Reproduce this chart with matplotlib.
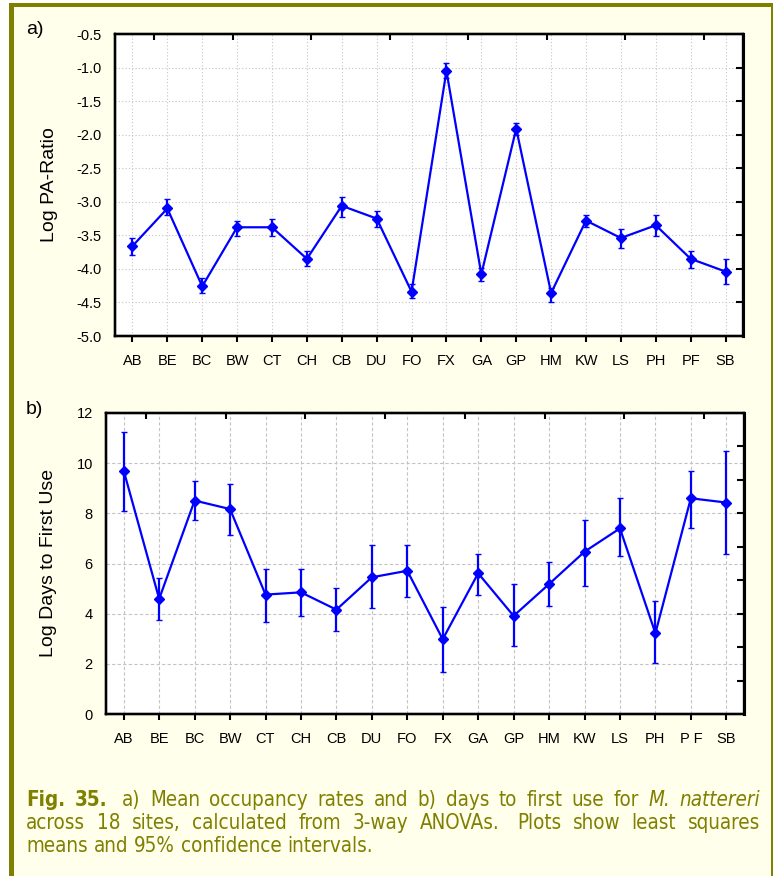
import matplotlib
matplotlib.use("Agg")
import matplotlib.pyplot as plt
from matplotlib.patches import Rectangle
import numpy as np

# ---- data -----------------------------------------------------------------
sites_a = ["AB", "BE", "BC", "BW", "CT", "CH", "CB", "DU", "FO", "FX",
           "GA", "GP", "HM", "KW", "LS", "PH", "PF", "SB"]
sites_b = ["AB", "BE", "BC", "BW", "CT", "CH", "CB", "DU", "FO", "FX",
           "GA", "GP", "HM", "KW", "LS", "PH", "P F", "SB"]

# a) log PA-ratio: least squares means with 95% CI limits
pa_mean = [-3.66, -3.10, -4.26, -3.38, -3.38, -3.85, -3.06, -3.25, -4.34,
           -1.05, -4.08, -1.91, -4.36, -3.28, -3.54, -3.35, -3.85, -4.04]
pa_upper = [-3.54, -2.96, -4.14, -3.28, -3.26, -3.73, -2.93, -3.13, -4.22,
            -0.93, -3.98, -1.82, -4.28, -3.19, -3.41, -3.19, -3.73, -3.85]
pa_lower = [-3.79, -3.19, -4.36, -3.51, -3.51, -3.95, -3.22, -3.38, -4.43,
            -1.15, -4.18, -2.01, -4.49, -3.38, -3.69, -3.51, -3.98, -4.23]

# b) log days to first use
days_mean = [9.70, 4.59, 8.51, 8.17, 4.76, 4.85, 4.16, 5.45, 5.71,
             2.98, 5.61, 3.91, 5.18, 6.47, 7.40, 3.22, 8.60, 8.43]
days_upper = [11.23, 5.44, 9.29, 9.18, 5.78, 5.78, 5.02, 6.74, 6.73,
              4.25, 6.39, 5.20, 6.05, 7.74, 8.60, 4.52, 9.70, 10.47]
days_lower = [8.09, 3.75, 7.74, 7.15, 3.66, 3.91, 3.32, 4.24, 4.68,
              1.69, 4.76, 2.72, 4.32, 5.09, 6.29, 2.03, 7.40, 6.38]

pa_ticks = [-0.5, -1.0, -1.5, -2.0, -2.5, -3.0, -3.5, -4.0, -4.5, -5.0]
pa_ticklabels = ["-0.5", "-1.0", "-1.5", "-2.0", "-2.5", "-3.0", "-3.5",
                 "-4.0", "-4.5", "-5.0"]
days_ticks = [0, 2, 4, 6, 8, 10, 12]
days_ticklabels = ["0", "2", "4", "6", "8", "10", "12"]

# ---- figure ---------------------------------------------------------------
W, H = 773, 876
plt.rcParams["font.family"] = ["Liberation Sans", "DejaVu Sans"]
fig = plt.figure(figsize=(W / 100, H / 100), dpi=100, facecolor="white")

OLIVE = "#808000"
CREAM = "#FFFFEC"
LINE = "#0000FF"


def px_rect(x0, y0, x1, y1, color):
    fig.add_artist(Rectangle((x0 / W, 1 - y1 / H), (x1 - x0) / W, (y1 - y0) / H,
                             transform=fig.transFigure, facecolor=color,
                             edgecolor="none", zorder=-5))


# page panel with olive frame
px_rect(9, 3, 773, 876, OLIVE)
px_rect(14, 7, 771, 876, CREAM)


def make_axes(x0, y0, x1, y1):
    return fig.add_axes([x0 / W, 1 - y1 / H, (x1 - x0) / W, (y1 - y0) / H],
                        facecolor="white")


def style_axes(ax, ylim, yticks, yticklabels, xlabels, grid_ls):
    x = np.arange(len(xlabels))
    ax.set_xlim(-0.5, len(xlabels) - 0.5)
    ax.set_ylim(*ylim)
    ax.set_xticks(x)
    ax.set_xticklabels(xlabels, fontsize=10.5)
    ax.set_yticks(yticks)
    ax.set_yticklabels(yticklabels, fontsize=10.5)
    ax.tick_params(axis="x", direction="out", length=4, width=1.5, pad=9)
    ax.tick_params(axis="y", length=0, pad=9.5)
    ax.grid(True, color="#c4c4c4", linestyle=grid_ls, linewidth=0.8)
    ax.set_axisbelow(True)
    for s in ax.spines.values():
        s.set_linewidth(1.6)
        s.set_color("black")
    # inner ticks along the top and right frame
    top = ax.twiny()
    top.set_xlim(0, 8)
    top.set_xticks(np.arange(8) + 0.5)
    top.tick_params(axis="x", direction="in", length=4, width=1.5,
                    labeltop=False, top=True)
    right = ax.twinx()
    right.set_ylim(0, 9)
    right.set_yticks(np.arange(1, 9))
    right.tick_params(axis="y", direction="in", length=5, width=1.5,
                      labelright=False, right=True)
    for t in (top, right):
        for s in t.spines.values():
            s.set_linewidth(1.6)
        t.spines["right"].set_linewidth(2.2)


def draw_series(ax, mean, lower, upper):
    x = np.arange(len(mean))
    mean = np.asarray(mean)
    yerr = [mean - np.asarray(lower), np.asarray(upper) - mean]
    ax.errorbar(x, mean, yerr=yerr, color=LINE, linewidth=1.6,
                elinewidth=1.6, capsize=2.5, capthick=1.6,
                marker="D", markersize=5.5, markeredgewidth=1, zorder=3)


# a) log PA-ratio
ax_a = make_axes(115, 34, 743, 336)
style_axes(ax_a, (-5.0, -0.5), pa_ticks, pa_ticklabels, sites_a, (0, (1, 2)))
draw_series(ax_a, pa_mean, pa_lower, pa_upper)

# b) log days to first use
ax_b = make_axes(106, 413, 744, 714)
style_axes(ax_b, (0, 12), days_ticks, days_ticklabels, sites_b, (0, (3, 2)))
draw_series(ax_b, days_mean, days_lower, days_upper)

# panel letters and axis titles
fig.text(26 / W, 1 - 30 / H, "a)", fontsize=14, ha="left", va="center")
fig.text(26 / W, 1 - 410 / H, "b)", fontsize=14, ha="left", va="center")
fig.text(49 / W, 1 - 185 / H, "Log PA-Ratio", fontsize=14, rotation=90,
         ha="center", va="center")
fig.text(49 / W, 1 - 563 / H, "Log Days to First Use", fontsize=14,
         rotation=90, ha="center", va="center")

# ---- caption (justified) --------------------------------------------------
CAP_COLOR = "#7F7F00"
CAP_FAMILY = "DejaVu Sans"
CAP_STRETCH = "condensed"
renderer = fig.canvas.get_renderer()

N, B, I = "normal", "bold", "italic"
cap_lines = [
    ([("Fig.", B, N, 0), ("35.", B, N, 0), ("a)", N, N, 1), ("Mean", N, N, 0),
      ("occupancy", N, N, 0), ("rates", N, N, 0), ("and", N, N, 0),
      ("b)", N, N, 0), ("days", N, N, 0), ("to", N, N, 0), ("first", N, N, 0),
      ("use", N, N, 0), ("for", N, N, 0), ("M.", N, I, 0),
      ("nattereri", N, I, 0)], 806, True),
    ([("across", N, N, 0), ("18", N, N, 0), ("sites,", N, N, 0),
      ("calculated", N, N, 0), ("from", N, N, 0), ("3-way", N, N, 0),
      ("ANOVAs.", N, N, 0), ("Plots", N, N, 1), ("show", N, N, 0),
      ("least", N, N, 0), ("squares", N, N, 0)], 829, True),
    ([("means", N, N, 0), ("and", N, N, 0), ("95%", N, N, 0),
      ("confidence", N, N, 0), ("intervals.", N, N, 0)], 852, False),
]
CAP_LEFT, CAP_RIGHT = 26, 760


def cap_text(x, y, text, size, weight="normal", style="normal", **kw):
    return fig.text(x, y, text, fontsize=size, family=CAP_FAMILY,
                    stretch=CAP_STRETCH, weight=weight, style=style, **kw)


def measure(text, size, weight="normal", style="normal"):
    t = cap_text(0, 0, text, size, weight, style)
    w = t.get_window_extent(renderer).width
    t.remove()
    return w


# pick a size so the first line fills the column with ordinary word spacing
cap_size = 14.8
first = cap_lines[0][0]
natural = sum(measure(w, cap_size, wt, st) for w, wt, st, _ in first)
natural += (len(first) - 1) * (measure("x x", cap_size) - measure("xx", cap_size))
if natural > (CAP_RIGHT - CAP_LEFT) * 0.99:
    cap_size *= (CAP_RIGHT - CAP_LEFT) * 0.99 / natural

space = measure("x x", cap_size) - measure("xx", cap_size)
for words, base, justify in cap_lines:
    arts, widths = [], []
    for w, wt, st, _ in words:
        t = cap_text(0, 1 - base / H, w, cap_size, wt, st, color=CAP_COLOR,
                     ha="left", va="baseline")
        arts.append(t)
        widths.append(t.get_window_extent(renderer).width)
    extras = [e for *_, e in words]
    if justify:
        gap = (CAP_RIGHT - CAP_LEFT - sum(widths) - sum(extras) * space) / (len(words) - 1)
    else:
        gap = space
    x = CAP_LEFT
    for i, t in enumerate(arts):
        if i > 0:
            x += gap + extras[i] * space
        t.set_x(x / W)
        x += widths[i]

fig.savefig("out.png", dpi=100, facecolor=fig.get_facecolor())
